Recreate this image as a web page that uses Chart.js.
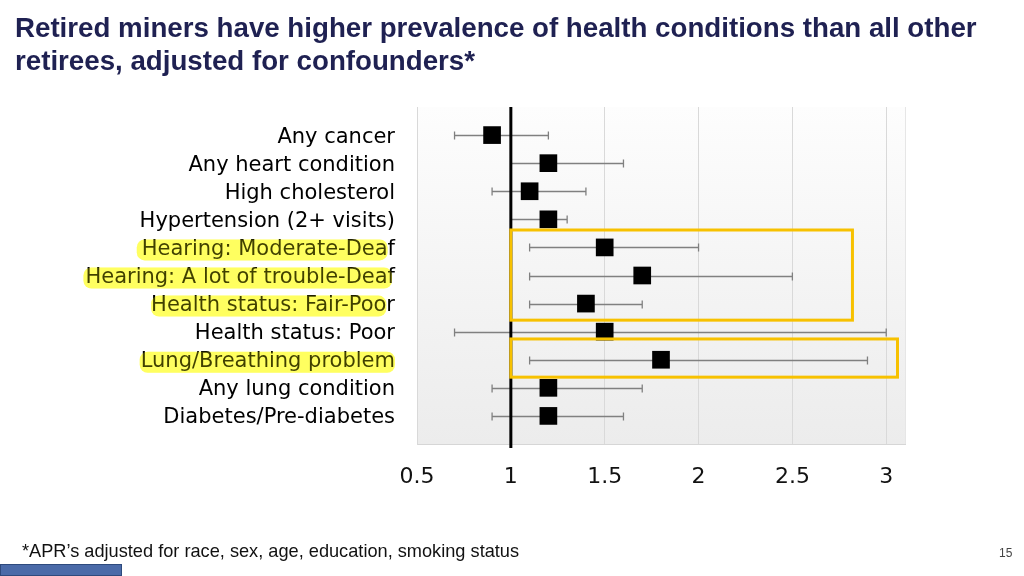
<!DOCTYPE html>
<html><head><meta charset="utf-8">
<script src="https://cdn.jsdelivr.net/npm/chart.js@4"></script>
<style>
html,body{margin:0;padding:0;background:#fff;}
body{width:1024px;height:576px;position:relative;overflow:hidden;font-family:"Liberation Sans",Arial,sans-serif;}
#title{position:absolute;left:15px;top:11px;font-size:27.7px;font-weight:bold;color:#1f2152;line-height:33px;white-space:nowrap;}
#wrap{position:absolute;left:0;top:0;width:1024px;height:576px;}
#foot{position:absolute;left:22px;top:541px;font-size:18.2px;color:#111;white-space:nowrap;}
#page{position:absolute;left:999px;top:546px;font-size:12px;color:#444;}
#bar{position:absolute;left:0;top:564px;width:122px;height:12px;background:#4a6aa8;border:1px solid #2e4a7d;box-sizing:border-box;}
</style>
</head><body>
<div id="wrap"><canvas id="c" width="1024" height="576"></canvas></div>
<div id="title">Retired miners have higher prevalence of health conditions than all other<br>retirees, adjusted for confounders*</div>
<div id="foot">*APR’s adjusted for race, sex, age, education, smoking status</div>
<div id="page">15</div>
<div id="bar"></div>
<script>
const categories = ["Any cancer","Any heart condition","High cholesterol","Hypertension (2+ visits)","Hearing: Moderate-Deaf","Hearing: A lot of trouble-Deaf","Health status: Fair-Poor","Health status: Poor","Lung/Breathing problem","Any lung condition","Diabetes/Pre-diabetes"];
const apr    = [0.9, 1.2, 1.1, 1.2, 1.5, 1.7, 1.4, 1.5, 1.8, 1.2, 1.2];
const ciLow  = [0.7, 1.0, 0.9, 1.0, 1.1, 1.1, 1.1, 0.7, 1.1, 0.9, 0.9];
const ciHigh = [1.2, 1.6, 1.4, 1.3, 2.0, 2.5, 1.7, 3.0, 2.9, 1.7, 1.6];
const xTicks = [0.5, 1, 1.5, 2, 2.5, 3];
const referenceValue = 1;

const LABEL_FAMILY = '"DejaVu Sans", "Liberation Sans", Arial, sans-serif';
const LABEL_SIZE = 21;
const LABEL_FONT = LABEL_SIZE + 'px ' + LABEL_FAMILY;

const forestPlugin = {
  id: 'forest',
  beforeDraw(chart) {
    const {ctx, chartArea: a} = chart;
    ctx.save();
    const g = ctx.createLinearGradient(0, a.top, 0, a.bottom);
    g.addColorStop(0, '#fdfdfd');
    g.addColorStop(1, '#ececec');
    ctx.fillStyle = g;
    ctx.fillRect(a.left, a.top, a.right - a.left, a.bottom - a.top);
    ctx.strokeStyle = '#e6e6e6';
    ctx.lineWidth = 1;
    ctx.beginPath();
    ctx.moveTo(a.right + 0.5, a.top);
    ctx.lineTo(a.right + 0.5, a.bottom);
    ctx.stroke();
    ctx.restore();
  },
  beforeDatasetsDraw(chart) {
    const {ctx, chartArea: a, scales: {x, y}} = chart;
    ctx.save();
    ctx.strokeStyle = '#808080';
    ctx.lineWidth = 1.3;
    for (let i = 0; i < apr.length; i++) {
      const py = Math.round(y.getPixelForValue(i + 1)) + 0.5;
      const x1 = x.getPixelForValue(ciLow[i]);
      const x2 = x.getPixelForValue(ciHigh[i]);
      ctx.beginPath();
      ctx.moveTo(x1, py); ctx.lineTo(x2, py);
      ctx.moveTo(x1, py - 4); ctx.lineTo(x1, py + 4);
      ctx.moveTo(x2, py - 4); ctx.lineTo(x2, py + 4);
      ctx.stroke();
    }
    const rx = x.getPixelForValue(referenceValue);
    ctx.strokeStyle = '#000';
    ctx.lineWidth = 3;
    ctx.beginPath();
    ctx.moveTo(rx, a.top);
    ctx.lineTo(rx, a.bottom + 4);
    ctx.stroke();
    ctx.restore();
  },
  afterDraw(chart, args, opts) {
    const {ctx, scales: {x, y}} = chart;
    ctx.save();
    ctx.strokeStyle = '#f7c100';
    ctx.lineWidth = 3;
    for (const b of opts.boxes) {
      const l = x.getPixelForValue(b.x0), r = x.getPixelForValue(b.x1);
      const t = y.getPixelForValue(b.y0), bt = y.getPixelForValue(b.y1);
      ctx.strokeRect(l, t, r - l, bt - t);
    }
    ctx.font = LABEL_FONT;
    const right = y.right - 22;
    for (const h of opts.highlights) {
      const text = categories[h.i];
      const w = ctx.measureText(text).width;
      const sw = h.suffix ? ctx.measureText(h.suffix).width : 0;
      const left = right - w - h.lead;
      const end = right - sw - h.trim;
      const cy = y.getPixelForValue(h.i + 1) + 2.5;
      const hh = 21;
      const path = new Path2D();
      path.roundRect(left, cy - hh / 2, end - left, hh, 8);
      ctx.globalCompositeOperation = 'multiply';
      ctx.fillStyle = '#ffff80';
      ctx.fill(path);
      ctx.globalCompositeOperation = 'source-over';
      ctx.fillStyle = 'rgba(255,255,0,0.25)';
      ctx.fill(path);
    }
    ctx.restore();
  }
};

new Chart(document.getElementById('c'), {
  type: 'scatter',
  data: {
    datasets: [{
      data: apr.map((v, i) => ({x: v, y: i + 1})),
      pointStyle: 'rect',
      pointRadius: 12.5,
      pointHoverRadius: 12.5,
      backgroundColor: '#000',
      borderColor: '#000',
      borderWidth: 0
    }]
  },
  options: {
    responsive: false,
    animation: false,
    events: [],
    layout: {padding: {top: 107, right: 119, bottom: 72, left: 0}},
    plugins: {
      legend: {display: false},
      tooltip: {enabled: false},
      forest: {
        boxes: [
          {x0: 1.0, x1: 2.82, y0: 4.38, y1: 7.59},
          {x0: 1.0, x1: 3.06, y0: 8.26, y1: 9.62}
        ],
        highlights: [
          {i: 4, lead: 5, suffix: 'f', trim: 0},
          {i: 5, lead: 2, suffix: '', trim: 3},
          {i: 6, lead: 0, suffix: 'r', trim: 0},
          {i: 8, lead: 1, suffix: '', trim: 0}
        ]
      }
    },
    scales: {
      x: {
        type: 'linear',
        min: 0.5,
        max: 3.1,
        afterBuildTicks: s => { s.ticks = xTicks.map(v => ({value: v})); },
        afterFit: s => { s.height = 60; },
        grid: {color: '#d9d9d9', lineWidth: 1, drawTicks: false},
        border: {display: true, color: '#d6d6d6'},
        ticks: {
          color: '#111',
          font: {size: 22, family: LABEL_FAMILY},
          padding: 20,
          maxRotation: 0,
          callback: v => String(v)
        }
      },
      y: {
        type: 'linear',
        min: 0,
        max: 12,
        reverse: true,
        afterBuildTicks: s => { s.ticks = categories.map((c, i) => ({value: i + 1})); },
        afterFit: s => { s.width = 417; },
        grid: {display: false, drawTicks: false},
        border: {display: true, color: '#d9d9d9'},
        ticks: {
          color: '#000',
          font: {size: LABEL_SIZE, family: LABEL_FAMILY},
          padding: 22,
          labelOffset: 2,
          autoSkip: false,
          callback: v => categories[v - 1]
        }
      }
    }
  },
  plugins: [forestPlugin]
});
</script>
</body></html>
